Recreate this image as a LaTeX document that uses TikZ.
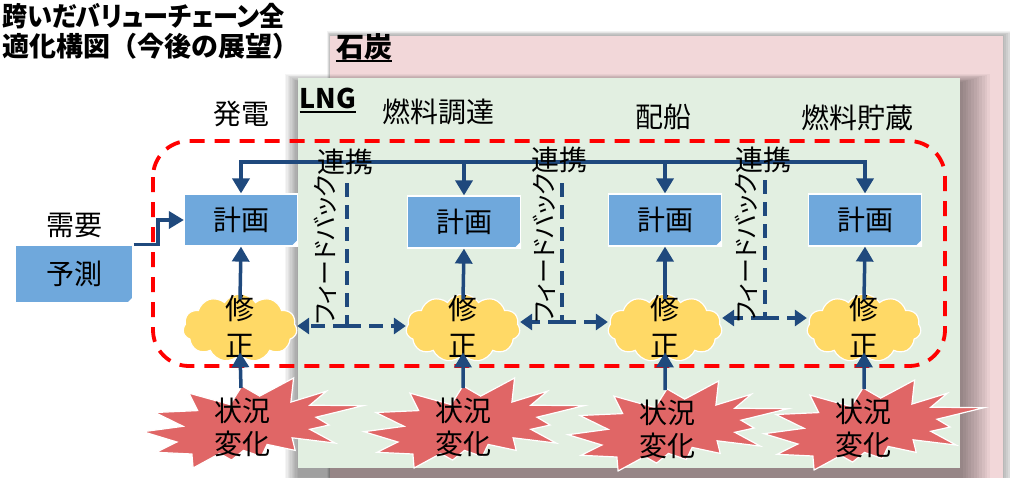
\documentclass[tikz,border=0pt]{standalone}
\usepackage{fontspec}
\setmainfont{Noto Sans CJK JP}
\usetikzlibrary{shapes.symbols,arrows.meta}
\definecolor{pinkbg}{RGB}{242,215,217}
\definecolor{greenbg}{RGB}{226,239,225}
\definecolor{boxblue}{RGB}{111,168,220}
\definecolor{cloudy}{RGB}{255,217,102}
\definecolor{burstred}{RGB}{224,102,102}
\definecolor{navy}{RGB}{31,73,125}
\definecolor{redd}{RGB}{255,0,0}
\newcommand\paltfeat{\addfontfeatures{RawFeature=+palt}}
\begin{document}
\begin{tikzpicture}[x=1pt,y=-1pt,
  lbl/.style={inner sep=0pt, font=\fontsize{28}{34}\selectfont},
  fblbl/.style={inner sep=0pt, rotate=90, font=\fontsize{25}{30}\selectfont\paltfeat},
  ttl/.style={inner sep=0pt, anchor=west, font=\fontsize{27}{33}\selectfont\bfseries},
  planbox/.style={rectangle, fill=boxblue, draw=white, line width=1.2pt, minimum width=113pt, minimum height=52pt, inner sep=0pt, font=\fontsize{28}{34}\selectfont},
  puff/.style={cloud, cloud puffs=11, cloud puff arc=115, cloud ignores aspect, fill=cloudy, draw=white, line width=1.2pt, minimum width=114pt, minimum height=68pt, inner sep=0pt},
  arr/.style={draw=navy, line width=3.5pt, -{Triangle[width=17pt,length=15pt]}},
  arrboth/.style={draw=navy, line width=3.5pt, {Triangle[width=17pt,length=15pt]}-{Triangle[width=17pt,length=15pt]}},
  fb/.style={draw=navy, line width=3.5pt, dash pattern=on 14pt off 8pt},
  fbarr/.style={fb, -{Triangle[width=16pt,length=12pt]}},
  burstpic/.pic={\filldraw[fill=burstred, draw=white, line width=1.2pt]
    (116.7,18.1) -- (150.6,0) -- (147.9,24.1) -- (183.4,13.2) -- (166.8,27.2) -- (220,27.7) -- (173.0,39.2) -- (186.1,47.0) -- (166.8,51.3) -- (192.3,65.1) -- (149.1,59.8) -- (152.2,72.4) -- (124.1,66.4) -- (118.3,78.5) -- (100.5,72.4) -- (88.6,82.1) -- (76.7,75.5) -- (50.1,90) -- (48.9,76.0) -- (13.1,74.3) -- (33.9,64.0) -- (0,53.7) -- (40.1,48.3) -- (11.9,34.5) -- (54.7,32.6) -- (45.9,15.1) -- (87.1,26.6) -- (99.0,7.9) -- cycle;}
]
\useasboundingbox (0,0) rectangle (1010,477);
\fill[white] (0,0) rectangle (1010,477);
% coal panel with shadow
\foreach \k in {0,...,5} \fill[black,opacity=0.05] (327+\k*0.5,31+\k*0.8) rectangle (1014-\k*2,490);
\fill[pinkbg] (330,36) rectangle (1003,490);
% LNG panel with shadow
\foreach \k in {0,...,10} \fill[black,opacity=0.04] (285+\k*1.3,74+\k*0.8) rectangle (990-\k*2.7,490);
\fill[greenbg] (298,78) rectangle (960,468);
% titles
\node[ttl, xscale=0.93, font=\fontsize{27}{33}\selectfont\bfseries\paltfeat] (t1) at (2,16) {跨いだバリューチェーン全};
\node[ttl] (t2) at (2,46) {適化構図（今後の展望）};
\node[lbl, anchor=base, font=\fontsize{28}{33}\selectfont\bfseries] (coal) at (364,57) {石炭};
\draw[line width=2pt] ([yshift=-4pt]coal.base west) -- ([yshift=-4pt]coal.base east);
\node[lbl, anchor=base, font=\fontsize{27}{33}\selectfont\bfseries] (lng) at (328,108) {LNG};
\draw[line width=2pt] ([yshift=-4pt]lng.base west) -- ([yshift=-4pt]lng.base east);
% stage headings
\node[lbl] (h1) at (241,114) {発電};
\node[lbl] (h2) at (438,112) {燃料調達};
\node[lbl] (h3) at (663,117) {配船};
\node[lbl] (h4) at (857,118) {燃料貯蔵};
% red dashed boundary
\draw[redd, line width=3.8pt, dash pattern=on 15pt off 10pt, rounded corners=36pt] (153,141) rectangle (945,366);
% nodes
\node[planbox] (p1) at (241,220) {計画};
\node[planbox] (p2) at (464,222) {計画};
\node[planbox] (p3) at (665,220) {計画};
\node[planbox] (p4) at (865,220) {計画};
\node[planbox, minimum width=118pt, minimum height=58pt] (d) at (74,274) {予測};
\node[lbl] (need) at (74,225) {需要};
\foreach \b in {p1,p2,p3,p4,d}{
  \fill[white] ([xshift=-7pt]\b.south east) -- ([yshift=7pt]\b.south east) -- (\b.south east) -- cycle;
}
% coordinates
\coordinate (bus) at (0,162);
\coordinate (dj) at (158,0);
\coordinate (s1) at (241,388);
\coordinate (s2) at (463,388);
\coordinate (s3) at (665,390);
\coordinate (s4) at (864,389);
\coordinate (f1t) at (347,183);
\coordinate (f1b) at (347,326);
\coordinate (f2t) at (562,183);
\coordinate (f2b) at (562,322);
\coordinate (f3t) at (765,180);
\coordinate (f3b) at (765,318);
% clouds
\node[puff] (c1) at (240,328) {};
\node[puff] (c2) at (463,328) {};
\node[puff] (c3) at (665,328) {};
\node[puff] (c4) at (864,328) {};
% cloud texts
\node[lbl, align=center, font=\fontsize{29}{37}\selectfont] (k1) at (240,326) {修\\正};
\node[lbl, align=center, font=\fontsize{29}{37}\selectfont] (k2) at (463,326) {修\\正};
\node[lbl, align=center, font=\fontsize{29}{37}\selectfont] (k3) at (665,326) {修\\正};
\node[lbl, align=center, font=\fontsize{29}{37}\selectfont] (k4) at (864,326) {修\\正};
% bursts
\pic at (143,378) {burstpic};
\pic at (364,378) {burstpic};
\pic at (568,381) {burstpic};
\pic at (764,380) {burstpic};
% connectors
\draw[arrboth] (p1.north) -- (p1.north |- bus) -- (p4.north |- bus) -- (p4.north);
\draw[arr] (p2.north |- bus) -- (p2.north);
\draw[arr] (p3.north |- bus) -- (p3.north);
\draw[arr] (d.north east) -- (d.north east -| dj) -- (dj |- p1.west) -- (p1.west);
\foreach \i in {1,2,3,4}{
  \draw[arr] ([yshift=-6pt]c\i.north) -- (p\i.south);
  \draw[arr] (s\i) -- ([yshift=3pt]c\i.south);
}
% feedback
\draw[fb] (f1t) -- (f1b);
\draw[fbarr] (f1b) -- (c1.east |- f1b);
\draw[fbarr] (f1b) -- (c2.west |- f1b);
\draw[fb] (f2t) -- (f2b);
\draw[fbarr] (f2b) -- (c2.east |- f2b);
\draw[fbarr] (f2b) -- (c3.west |- f2b);
\draw[fb] (f3t) -- (f3b);
\draw[fbarr] (f3b) -- (c3.east |- f3b);
\draw[fbarr] (f3b) -- (c4.west |- f3b);
\node[fblbl] (fl1) at (325,250) {フィードバック};
\node[fblbl] (fl2) at (544,248) {フィードバック};
\node[fblbl] (fl3) at (746,248) {フィードバック};
\node[lbl] (r1) at (345,162) {連携};
\node[lbl] (r2) at (559,160) {連携};
\node[lbl] (r3) at (763,160) {連携};
\node[lbl, align=center, font=\fontsize{28}{33}\selectfont] (b1) at (242,427) {状況\\変化};
\node[lbl, align=center, font=\fontsize{28}{33}\selectfont] (b2) at (463,427) {状況\\変化};
\node[lbl, align=center, font=\fontsize{28}{33}\selectfont] (b3) at (667,429) {状況\\変化};
\node[lbl, align=center, font=\fontsize{28}{33}\selectfont] (b4) at (863,428) {状況\\変化};
\end{tikzpicture}
\end{document}
